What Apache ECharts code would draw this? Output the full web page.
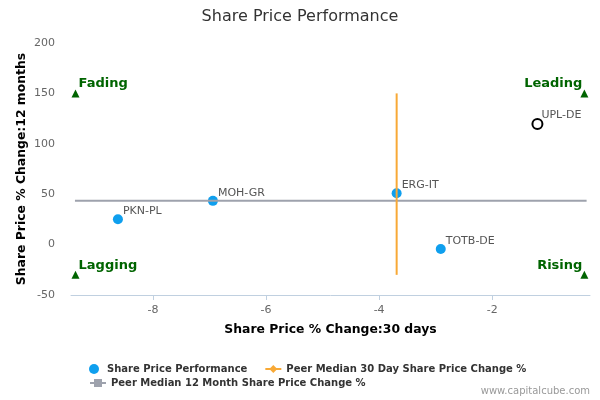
<!DOCTYPE html>
<html>
<head>
<meta charset="utf-8">
<script src="https://cdn.jsdelivr.net/npm/echarts/dist/echarts.min.js"></script>
<style>html,body{margin:0;padding:0;background:#fff}#c{width:600px;height:400px}</style>
</head>
<body>
<div id="c"></div>
<script>
const companies = ['PKN-PL', 'MOH-GR', 'ERG-IT', 'TOTB-DE', 'UPL-DE'];
const change30d = [-8.62, -6.94, -3.69, -2.91, -1.2];
const change12m = [25.2, 43.4, 51, -4.3, 119.7];
const highlighted = 'UPL-DE';
const peerMedian30d = -3.69;
const peerMedian12m = 43.4;
const median30dSpan = [150, -30];
const median12mSpan = [-9.38, -0.33];
const quadrantNames = ['Fading', 'Leading', 'Lagging', 'Rising'];
const quadrantX = [-9.37, -0.37, -9.37, -0.37];
const quadrantY = [150, 150, -30, -30];
const xTicks = [-8, -6, -4, -2];

const FONT = 'DejaVu Sans';
const chart = echarts.init(document.getElementById('c'), null, {renderer: 'canvas'});

const perfData = companies.map((n, i) => {
  const item = {name: n, value: [change30d[i], change12m[i]]};
  if (n === highlighted) {
    item.itemStyle = {color: '#ffffff', borderColor: '#000000', borderWidth: 2, opacity: 1};
  }
  return item;
});

const quadData = quadrantNames.map((n, i) => {
  const right = quadrantX[i] > -5;
  const top = quadrantY[i] > 50;
  return {
    name: n,
    value: [quadrantX[i], quadrantY[i]],
    label: {
      align: right ? 'right' : 'left',
      position: right ? [2, top ? -6 : -5.5] : [7, top ? -6 : -5]
    }
  };
});

chart.setOption({
  animation: false,
  title: {
    text: 'Share Price Performance',
    left: 'center', top: 4,
    textStyle: {fontFamily: FONT, fontSize: 16, fontWeight: 'normal', color: '#333333'}
  },
  grid: {left: 71, right: 10, top: 43, bottom: 105, containLabel: false},
  legend: [
    {
      data: ['Share Price Performance', 'Peer Median 30 Day Share Price Change %'],
      left: 84, top: 359, itemWidth: 16, itemHeight: 10, itemGap: 17,
      textStyle: {fontFamily: FONT, fontSize: 10, fontWeight: 'bold', color: '#333333'}
    },
    {
      data: ['Peer Median 12 Month Share Price Change %'],
      left: 84, top: 373, itemWidth: 16, itemHeight: 10,
      textStyle: {fontFamily: FONT, fontSize: 10, fontWeight: 'bold', color: '#333333'}
    }
  ],
  xAxis: {
    type: 'value', min: -9.45, max: -0.27,
    name: 'Share Price % Change:30 days', nameLocation: 'middle', nameGap: 29,
    nameTextStyle: {fontFamily: FONT, fontSize: 12.4, fontWeight: 'bold', color: '#000000'},
    axisLine: {show: true, onZero: false, lineStyle: {color: '#c0d0e0', width: 1}},
    axisTick: {show: true, length: 5, customValues: xTicks, lineStyle: {color: '#c0d0e0'}},
    axisLabel: {customValues: xTicks, margin: 10, fontFamily: FONT, fontSize: 11, color: '#666666'},
    splitLine: {show: false}
  },
  yAxis: {
    type: 'value', min: -50, max: 200, interval: 50,
    name: 'Share Price % Change:12 months', nameLocation: 'middle', nameGap: 43,
    nameMoveOverlap: false,
    nameTextStyle: {fontFamily: FONT, fontSize: 12.4, fontWeight: 'bold', color: '#000000'},
    axisLine: {show: false},
    axisTick: {show: false},
    axisLabel: {margin: 16, fontFamily: FONT, fontSize: 11, color: '#666666'},
    splitLine: {show: false}
  },
  series: [
    {
      name: 'Share Price Performance',
      type: 'scatter', z: 2,
      symbol: 'circle', symbolSize: 10,
      color: '#0f9fee',
      itemStyle: {color: '#0f9fee', opacity: 1},
      label: {
        show: true, formatter: p => p.name, position: [10, -3],
        align: 'left', verticalAlign: 'middle',
        fontFamily: FONT, fontSize: 11, color: '#555555'
      },
      emphasis: {disabled: true},
      data: perfData
    },
    {
      name: 'Peer Median 12 Month Share Price Change %',
      type: 'line', z: 3,
      symbol: 'rect', symbolSize: 10, showSymbol: false,
      color: '#9ea2ad',
      lineStyle: {color: '#9ea2ad', width: 2},
      data: median12mSpan.map(x => [x, peerMedian12m])
    },
    {
      name: 'Peer Median 30 Day Share Price Change %',
      type: 'line', z: 4,
      symbol: 'diamond', symbolSize: 10, showSymbol: false,
      color: '#f8a936',
      lineStyle: {color: '#f8a936', width: 2},
      data: median30dSpan.map(y => [peerMedian30d, y])
    },
    {
      name: 'Quadrants',
      type: 'scatter', z: 5,
      symbol: 'triangle', symbolSize: 8,
      itemStyle: {color: '#006400', opacity: 1},
      label: {
        show: true, formatter: p => p.name, verticalAlign: 'middle',
        fontFamily: FONT, fontSize: 13, fontWeight: 'bold', color: '#006400'
      },
      emphasis: {disabled: true},
      data: quadData
    }
  ],
  graphic: [{
    type: 'text', right: 10, top: 386,
    style: {text: 'www.capitalcube.com', font: '10px "DejaVu Sans"', fill: '#999999'}
  }]
});
</script>
</body>
</html>
